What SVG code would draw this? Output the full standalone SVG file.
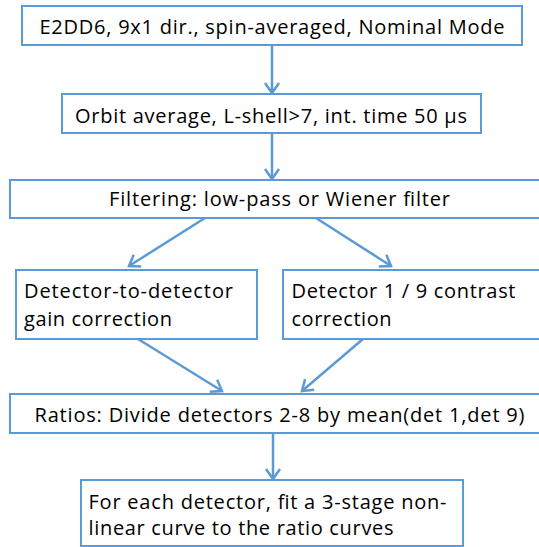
<svg xmlns="http://www.w3.org/2000/svg" width="539" height="547" viewBox="0 0 539 547">
<style>
.box{fill:#fff;stroke:#5B9BD5;stroke-width:2}
.t{font-family:"Open Sans","Noto Sans",sans-serif;font-size:20px;fill:#000}
.c{stroke:#5B9BD5;stroke-width:2.5;fill:none}
</style>
<defs>
<marker id="ah" markerUnits="userSpaceOnUse" markerWidth="16" markerHeight="18" viewBox="0 0 16 18" refX="13" refY="9" orient="auto">
<path d="M3,2 L13,9 L3,16" fill="none" stroke="#5B9BD5" stroke-width="2.5"/>
</marker>
</defs>
<rect width="539" height="547" fill="#fff"/>
<g id="connectors">
<line class="c" x1="272" y1="45" x2="272" y2="93" marker-end="url(#ah)"/>
<line class="c" x1="272" y1="133" x2="272" y2="179" marker-end="url(#ah)"/>
<line class="c" x1="205" y1="218" x2="129" y2="266" marker-end="url(#ah)"/>
<line class="c" x1="316" y1="218" x2="391" y2="266" marker-end="url(#ah)"/>
<line class="c" x1="138" y1="339" x2="222" y2="391" marker-end="url(#ah)"/>
<line class="c" x1="363" y1="339" x2="302" y2="391" marker-end="url(#ah)"/>
<line class="c" x1="273" y1="433" x2="273" y2="479" marker-end="url(#ah)"/>
</g>
<g id="n1">
<rect class="box" x="22" y="6" width="500" height="39"/>
<text class="t" x="39.5" y="34" textLength="465">E2DD6, 9x1 dir., spin-averaged, Nominal Mode</text>
</g>
<g id="n2">
<rect class="box" x="62" y="94" width="419" height="39"/>
<text class="t" x="75" y="123" textLength="392">Orbit average, L-shell&gt;7, int. time 50 μs</text>
</g>
<g id="n3">
<rect class="box" x="10" y="180" width="540" height="38"/>
<text class="t" x="109" y="206" textLength="341">Filtering: low-pass or Wiener filter</text>
</g>
<g id="n4">
<rect class="box" x="16" y="270" width="241" height="69"/>
<text class="t" x="24" y="298" textLength="209">Detector-to-detector</text>
<text class="t" x="24" y="326" textLength="148">gain correction</text>
</g>
<g id="n5">
<rect class="box" x="283" y="270" width="267" height="69"/>
<text class="t" x="291.5" y="298" textLength="224">Detector 1 / 9 contrast</text>
<text class="t" x="291.5" y="326" textLength="100">correction</text>
</g>
<g id="n6">
<rect class="box" x="10" y="394" width="540" height="39"/>
<text class="t" x="34.5" y="422" textLength="490">Ratios: Divide detectors 2-8 by mean(det 1,det 9)</text>
</g>
<g id="n7">
<rect class="box" x="81" y="480" width="382" height="66"/>
<text class="t" x="88.5" y="509" textLength="358">For each detector, fit a 3-stage non-</text>
<text class="t" x="88.5" y="535" textLength="305">linear curve to the ratio curves</text>
</g>
</svg>
